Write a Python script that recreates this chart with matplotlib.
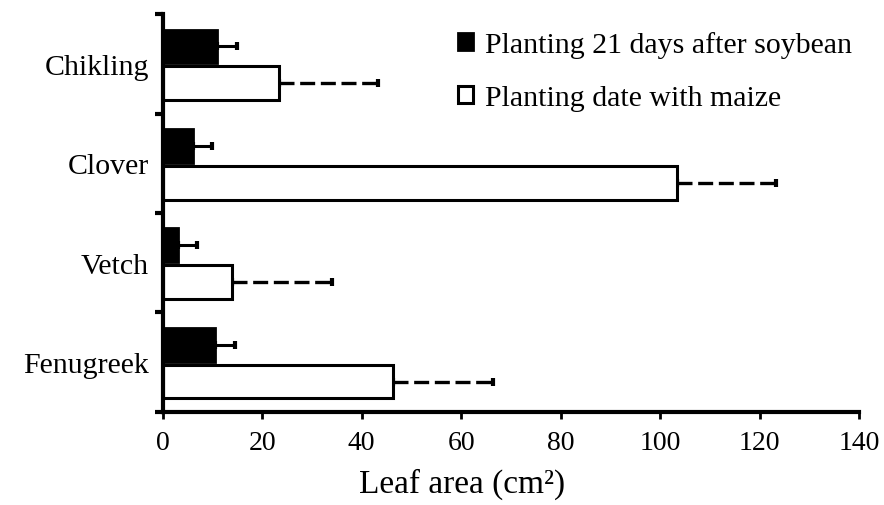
import matplotlib.pyplot as plt
import numpy as np

plt.rcParams['font.family'] = ['Liberation Serif', 'DejaVu Serif']

crops = ["Chikling", "Clover", "Vetch", "Fenugreek"]
soy_mean = [11, 6, 3, 10.5]
soy_se = [4, 4, 4, 4]
maize_mean = [23.3, 103.3, 14, 46.3]
maize_se = [20, 20, 20, 20]

pos = np.arange(len(crops))[::-1]
h = 0.34

fig = plt.figure(figsize=(8.84, 5.06), dpi=100)
ax = fig.add_axes([0.184, 0.184, 0.788, 0.786])

ax.barh(pos + 0.175, soy_mean, h, color="black", edgecolor="black", linewidth=2,
        label="Planting 21 days after soybean", zorder=2)
ax.barh(pos - 0.195, maize_mean, h, color="white", edgecolor="black", linewidth=2.2,
        label="Planting date with maize", zorder=2)

# one-sided error bars: solid for soybean, dashed for maize
ax.errorbar(soy_mean, pos + 0.175, xerr=[[0] * 4, soy_se], fmt="none", ecolor="black",
            elinewidth=2.2, capsize=3, capthick=3, zorder=1)
eb = ax.errorbar(maize_mean, pos - 0.195, xerr=[[0] * 4, maize_se], fmt="none",
                 ecolor="black", elinewidth=2.4, capsize=3, capthick=3, zorder=1)
eb[2][0].set_linestyle((0, (4.5, 1.7)))

ax.set_xlim(0, 140)
ax.set_ylim(-0.5, 3.5)
ax.set_xticks(np.arange(0, 141, 20))
ax.tick_params(axis="x", labelsize=20, width=2, length=5, direction="out", pad=8)

# boundaries as major ticks, names on minor ticks at band centres
ax.set_yticks(np.arange(-0.5, 3.6, 1.0))
ax.set_yticklabels([])
ax.set_yticks(pos, minor=True)
ax.set_yticklabels(crops, minor=True)
ax.tick_params(axis="y", which="major", width=3, length=6)
ax.tick_params(axis="y", which="minor", length=0, labelsize=21.5, pad=10)

for s in ["top", "right"]:
    ax.spines[s].set_visible(False)
for s in ["left", "bottom"]:
    ax.spines[s].set_linewidth(3)

ax.set_xlabel("Leaf area (cm²)", fontsize=24)
ax.xaxis.set_label_coords(0.43, -0.14)

ax.legend(loc="upper left", bbox_to_anchor=(458 / 884, 1 - 32 / 506),
          bbox_transform=fig.transFigure, frameon=False, fontsize=21.5,
          borderpad=0, borderaxespad=0, handlelength=0.5, handleheight=0.5,
          handletextpad=0.4, labelspacing=0.9)

fig.savefig("out.png", dpi=100)
